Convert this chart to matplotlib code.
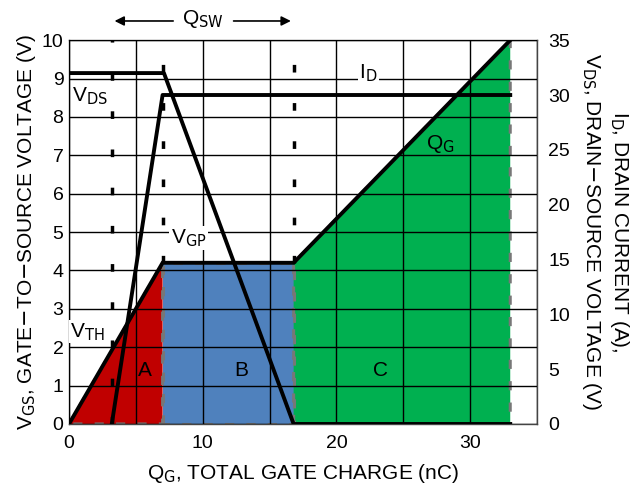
import matplotlib
matplotlib.use("Agg")
import matplotlib.pyplot as plt
from matplotlib.patches import Polygon

plt.rcParams['font.family'] = ['Liberation Sans', 'DejaVu Sans']

# Data (left axis: V_GS in V; right axis: I_D in A / V_DS in V)
qg_x = [0, 7.0, 16.8, 33.0]
vgs_y = [0, 4.2, 4.2, 10.0]
vds_x = [0, 7.1, 16.8, 33.0]
vds_y = [32.0, 32.0, 0, 0]
id_x = [3.2, 7.0, 33.0]
id_y = [0, 30.0, 30.0]
q_th = 3.2
q_gp_start = 7.0
q_gp_end = 16.8
region_labels = ["A", "B", "C"]

fig = plt.figure(figsize=(6.36, 4.84), dpi=100)
ax = fig.add_axes([0.1085, 0.124, 0.7358, 0.793])
ax.set_xlim(0, 35)
ax.set_ylim(0, 10)
ax.set_xticks([0, 10, 20, 30])
ax.set_xticks(range(0, 36, 5), minor=True)
ax.set_yticks(range(0, 11))
ax.tick_params(length=0, labelsize=14, which='both')
ax.tick_params(axis='x', pad=8)
ax.tick_params(axis='y', pad=4)
ax.grid(True, which='both', color='black', lw=1.0, zorder=1.5)
ax.set_axisbelow(False)
for s in ax.spines.values():
    s.set_color('#444444')
    s.set_linewidth(1.0)

# regions
red = '#C00000'
blue = '#4F81BD'
green = '#00B050'
polyA = [(qg_x[0], vgs_y[0]), (qg_x[1], vgs_y[1]), (qg_x[1], 0)]
polyB = [(qg_x[1], 0), (qg_x[1], vgs_y[1]), (qg_x[2], vgs_y[2]), (qg_x[2], 0)]
polyC = [(qg_x[2], 0), (qg_x[2], vgs_y[2]), (qg_x[3], vgs_y[3]), (qg_x[3], 0)]
for poly, col in [(polyA, red), (polyB, blue), (polyC, green)]:
    ax.add_patch(Polygon(poly, closed=True, facecolor=col, edgecolor='none', zorder=1))
    ax.add_patch(Polygon(poly, closed=True, facecolor='none', edgecolor='#777777',
                         lw=2.2, ls=(0, (3, 4)), zorder=2))

# vertical dashed lines
ax.plot([q_th, q_th], [0, 10], color='black', lw=2.5, ls=(0, (2.2, 8.8)), zorder=3)
ax.plot([q_gp_start, q_gp_start], [vgs_y[1], 10], color='black', lw=2.5, ls=(0, (2.2, 8.8)), zorder=3)
ax.plot([q_gp_end, q_gp_end], [vgs_y[2], 10], color='black', lw=2.5, ls=(0, (2.2, 8.8)), zorder=3)

# V_GS curve
ax.plot(qg_x, vgs_y, color='black', lw=2.8, zorder=4, solid_joinstyle='miter')

# right axis
ax2 = ax.twinx()
ax2.set_ylim(0, 35)
ax2.set_yticks(range(0, 36, 5))
ax2.tick_params(length=0, labelsize=14, pad=8)
for s in ax2.spines.values():
    s.set_visible(False)
ax2.plot(vds_x, vds_y, color='black', lw=2.8, zorder=4)
ax2.plot(id_x, id_y, color='black', lw=2.8, zorder=4)

# labels on plot
fs = 15
ax.text(0.2, 8.55, r'V$_{\mathrm{DS}}$', fontsize=fs, ha='left', va='center', zorder=5)
ax.text(21.7, 9.15, r'I$_{\mathrm{D}}$', fontsize=fs, ha='left', va='center', zorder=5,
        bbox=dict(facecolor='white', edgecolor='none', pad=1))
ax.text(26.7, 7.3, r'Q$_{\mathrm{G}}$', fontsize=fs, ha='left', va='center', zorder=5)
ax.text(7.6, 4.85, r'V$_{\mathrm{GP}}$', fontsize=fs, ha='left', va='center', zorder=5,
        bbox=dict(facecolor='white', edgecolor='none', pad=1))
ax.text(0.05, 2.4, r'V$_{\mathrm{TH}}$', fontsize=fs, ha='left', va='center', zorder=5,
        bbox=dict(facecolor='white', edgecolor='none', pad=0.5))
ax.text(5.7, 1.4, region_labels[0], fontsize=fs, ha='center', va='center', zorder=5)
ax.text(12.9, 1.4, region_labels[1], fontsize=fs, ha='center', va='center', zorder=5)
ax.text(23.3, 1.4, region_labels[2], fontsize=fs, ha='center', va='center', zorder=5)

# Q_SW arrow
ax.text(10.0, 10.55, r'Q$_{\mathrm{SW}}$', fontsize=fs, ha='center', va='center', clip_on=False)
ax.annotate('', xy=(q_th, 10.5), xytext=(8.0, 10.5), annotation_clip=False,
            arrowprops=dict(arrowstyle='-|>', color='black', lw=1.2, mutation_scale=14))
ax.annotate('', xy=(q_gp_end, 10.5), xytext=(12.1, 10.5), annotation_clip=False,
            arrowprops=dict(arrowstyle='-|>', color='black', lw=1.2, mutation_scale=14))

ax.set_xlabel(r'Q$_{\mathrm{G}}$, TOTAL GATE CHARGE (nC)', fontsize=15, labelpad=7)
ax.set_ylabel(r'V$_{\mathrm{GS}}$, GATE$-$TO$-$SOURCE VOLTAGE (V)', fontsize=15, labelpad=3)
ax2.set_ylabel('I$_{\\mathrm{D}}$, DRAIN CURRENT (A),\nV$_{\\mathrm{DS}}$, DRAIN$-$SOURCE VOLTAGE (V)',
               fontsize=15, rotation=270, labelpad=44, linespacing=1.3)

fig.savefig('out.png', dpi=100)
